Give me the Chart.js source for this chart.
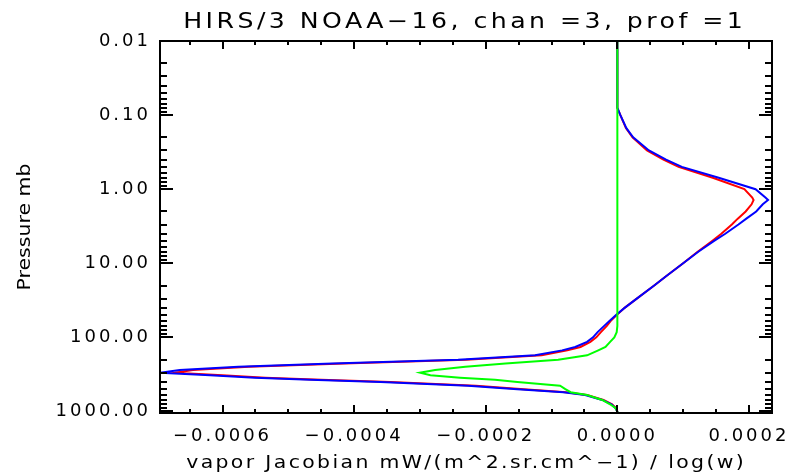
<!DOCTYPE html>
<html>
<head>
<meta charset="utf-8">
<script src="https://cdn.jsdelivr.net/npm/chart.js@4.4.0/dist/chart.umd.min.js"></script>
<style>
  html, body { margin: 0; padding: 0; background: #fff; }
  #wrap { width: 791px; height: 475px; }
</style>
</head>
<body>
<div id="wrap"><canvas id="jac"></canvas></div>
<script>
// DATA (pressure levels in mb, jacobians in mW/(m^2.sr.cm^-1) / log(w))
var pressure = [0.01, 0.05, 0.08, 0.1, 0.15, 0.2, 0.3, 0.4, 0.5, 0.7,
                1.0, 1.3, 1.4, 1.6, 2.0, 2.5, 3, 4, 5, 7,
                10, 15, 20, 30, 40, 50, 60, 70, 85, 100,
                115, 135, 150, 175, 200, 225, 250, 275, 300, 325,
                350, 375, 400, 450, 500, 550, 600, 700, 800, 900,
                1000, 1050];

var jacBlue = [0, 0, 0, 4.6e-6, 1.37e-5, 2.4e-5, 4.8e-5, 7.4e-5, 9.8e-5, 1.54e-4,
               2.1e-4, 2.25e-4, 2.29e-4, 2.21e-4, 2.11e-4, 1.96e-4, 1.84e-4, 1.64e-4, 1.47e-4, 1.23e-4,
               1.0e-4, 7.4e-5, 5.6e-5, 2.95e-5, 1.1e-5, -2e-6, -1.2e-5, -2.0e-5, -3.0e-5, -3.7e-5,
               -4.6e-5, -6.4e-5, -8.4e-5, -1.25e-4, -2.42e-4, -4.33e-4, -5.76e-4, -6.65e-4, -6.95e-4, -6.19e-4,
               -5.51e-4, -4.67e-4, -3.6e-4, -2.27e-4, -1.52e-4, -8.2e-5, -4.9e-5, -2.3e-5, -9e-6, -3e-6,
               0, 0];

var jacRed = [0, 0, 0, 4.6e-6, 1.3e-5, 2.3e-5, 4.5e-5, 7.0e-5, 9.3e-5, 1.45e-4,
              1.93e-4, 2.05e-4, 2.07e-4, 2.04e-4, 1.95e-4, 1.83e-4, 1.74e-4, 1.58e-4, 1.44e-4, 1.22e-4,
              1.0e-4, 7.4e-5, 5.6e-5, 2.95e-5, 1.1e-5, -1e-6, -1e-5, -1.6e-5, -2.5e-5, -3.2e-5,
              -4.1e-5, -5.6e-5, -7.6e-5, -1.15e-4, -2.3e-4, -4.15e-4, -5.6e-4, -6.45e-4, -6.72e-4, -6.0e-4,
              -5.35e-4, -4.5e-4, -3.45e-4, -2.15e-4, -1.42e-4, -7.8e-5, -4.6e-5, -2.1e-5, -8e-6, -2e-6,
              0, 0];

var jacGreen = [0, 0, 0, 0, 0, 0, 0, 0, 0, 0,
                0, 0, 0, 0, 0, 0, 0, 0, 0, 0,
                0, 0, 0, 0, 0, 0, 0, 0, -1e-6, -4.6e-6,
                -1.1e-5, -1.8e-5, -2.9e-5, -4.6e-5, -9e-5, -1.7e-4, -2.31e-4, -2.77e-4, -3.0e-4, -2.84e-4,
                -2.39e-4, -1.86e-4, -1.52e-4, -8.7e-5, -7.9e-5, -7.1e-5, -4.6e-5, -2.3e-5, -1.1e-5, -3e-6,
                0, 0];

var xTickVals = [-0.0006, -0.0004, -0.0002, 0, 0.0002];
var yTickVals = [0.01, 0.1, 1, 10, 100, 1000];

var titleText = "HIRS/3 NOAA\u221216, chan =3, prof =1";
var xTitleText = "vapor Jacobian mW/(m^2.sr.cm^\u22121) / log(w)";
var yTitleText = "Pressure mb";

var FONT = "DejaVu Sans";

function toPoints(vals) {
  return pressure.map(function(p, i) { return { x: vals[i], y: p }; });
}

// text stretched to a given width (IDL hershey font is wide)
function wideText(ctx, text, size, cx, cy, width, rotate) {
  var sx = 1.2;
  ctx.save();
  ctx.font = size + "px '" + FONT + "'";
  ctx.letterSpacing = "0px";
  var w = ctx.measureText(text).width;
  var sp = Math.max(0, (width / sx - w) / text.length);
  ctx.letterSpacing = sp + "px";
  ctx.translate(cx, cy);
  if (rotate) ctx.rotate(-Math.PI / 2);
  ctx.scale(sx, 1);
  ctx.fillStyle = "#000";
  ctx.textAlign = "center";
  ctx.textBaseline = "alphabetic";
  ctx.fillText(text, sp / 2, 0);
  ctx.restore();
}

function tickLine(ctx, x1, y1, x2, y2) {
  ctx.beginPath();
  ctx.moveTo(x1, y1);
  ctx.lineTo(x2, y2);
  ctx.stroke();
}

// frame + ticks on all four sides, like IDL plot
var idlFrame = {
  id: "idlFrame",
  beforeDraw: function(chart) {
    chart.ctx.letterSpacing = "3px";
  },
  afterDraw: function(chart) {
    var ctx = chart.ctx, a = chart.chartArea;
    var xs = chart.scales.x, ys = chart.scales.y;
    ctx.save();
    ctx.letterSpacing = "0px";
    ctx.strokeStyle = "#000";
    ctx.lineWidth = 2;
    ctx.strokeRect(a.left, a.top, a.right - a.left, a.bottom - a.top);

    var step = 0.00005;
    for (var k = Math.ceil(xs.min / step); k * step <= xs.max + 1e-12; k++) {
      var px = Math.round(xs.getPixelForValue(k * step));
      var len = (k % 4 === 0) ? 8 : 4;
      tickLine(ctx, px, a.bottom, px, a.bottom - len);
      tickLine(ctx, px, a.top, px, a.top + len);
    }
    for (var e = -2; e <= 3; e++) {
      for (var m = 1; m <= 9; m++) {
        var v = m * Math.pow(10, e);
        if (v < ys.min || v > ys.max) continue;
        var py = Math.round(ys.getPixelForValue(v));
        var l2 = (m === 1) ? 13 : 7;
        tickLine(ctx, a.left, py, a.left + l2, py);
        tickLine(ctx, a.right, py, a.right - l2, py);
      }
    }
    ctx.restore();

    wideText(ctx, titleText, 21, 463, 28, 563, false);
    wideText(ctx, xTitleText, 17, 465, 468, 560, false);
    wideText(ctx, yTitleText, 17, 30, 227, 127, true);
  }
};

var jacChart = new Chart(document.getElementById("jac"), {
  type: "scatter",
  data: {
    datasets: [{
      label: "green",
      data: toPoints(jacGreen),
      borderColor: "#00ff00",
      borderWidth: 2,
      pointRadius: 0,
      showLine: true,
      tension: 0,
      order: 0
    }, {
      label: "blue",
      data: toPoints(jacBlue),
      borderColor: "#0000ff",
      borderWidth: 2,
      pointRadius: 0,
      showLine: true,
      tension: 0,
      order: 1
    }, {
      label: "red",
      data: toPoints(jacRed),
      borderColor: "#ff0000",
      borderWidth: 2,
      pointRadius: 0,
      showLine: true,
      tension: 0,
      order: 2
    }]
  },
  options: {
    responsive: true,
    maintainAspectRatio: false,
    animation: false,
    devicePixelRatio: 1,
    layout: {
      padding: { top: 41, right: 19, bottom: 0, left: 0 }
    },
    plugins: {
      legend: { display: false },
      tooltip: { enabled: false },
      title: { display: false }
    },
    scales: {
      x: {
        type: "linear",
        min: -0.000695,
        max: 0.000235,
        grid: { display: false, drawTicks: false },
        border: { display: false },
        afterBuildTicks: function(s) {
          s.ticks = xTickVals.map(function(v) { return { value: v }; });
        },
        afterFit: function(s) {
          s.height = 62;
          s.paddingLeft = 0;
          s.paddingRight = 0;
        },
        ticks: {
          autoSkip: false,
          maxRotation: 0,
          padding: 13,
          color: "#000",
          font: { family: FONT, size: 18 },
          callback: function(v) { return Number(v).toFixed(4).replace("-", "\u2212"); }
        }
      },
      y: {
        type: "logarithmic",
        reverse: true,
        min: 0.01,
        max: 1050,
        grid: { display: false, drawTicks: false },
        border: { display: false },
        afterBuildTicks: function(s) {
          s.ticks = yTickVals.map(function(v) { return { value: v }; });
        },
        afterFit: function(s) {
          s.width = 160;
          s.paddingTop = 0;
          s.paddingBottom = 0;
        },
        ticks: {
          autoSkip: false,
          padding: 9,
          color: "#000",
          font: { family: FONT, size: 18 },
          callback: function(v) { return Number(v).toFixed(2); }
        }
      }
    }
  },
  plugins: [idlFrame]
});
</script>
</body>
</html>
